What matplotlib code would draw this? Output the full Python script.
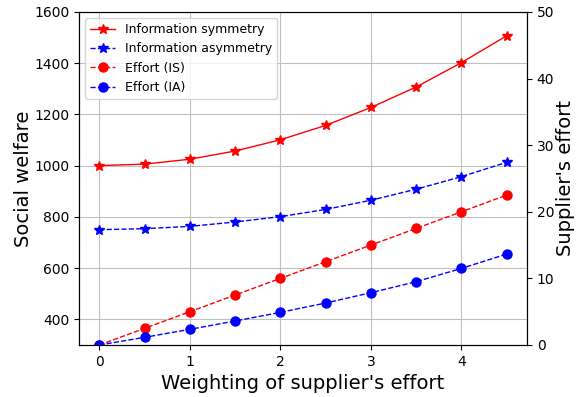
import numpy as np
import matplotlib.pyplot as plt

# weighting of supplier's effort
weights = [0, 0.5, 1, 1.5, 2, 2.5, 3, 3.5, 4, 4.5]

# social welfare (left axis)
welfare_sym = [1000, 1006, 1025, 1057, 1101, 1157, 1227, 1307, 1402, 1507]
welfare_asym = [750, 754, 763, 780, 801, 829, 865, 908, 957, 1013]

# supplier's effort (right axis)
effort_is = [0, 2.5, 5, 7.5, 10, 12.5, 15, 17.5, 20, 22.5]
effort_ia = [0, 1.15, 2.35, 3.6, 4.9, 6.3, 7.85, 9.5, 11.5, 13.65]

fig = plt.figure(figsize=(5.85, 3.97), dpi=100)
ax = fig.add_axes([0.135, 0.131, 0.766, 0.839])
ax2 = ax.twinx()

l1, = ax.plot(weights, welfare_sym, 'r-', marker='*', lw=1, ms=7, label='Information symmetry')
l2, = ax.plot(weights, welfare_asym, 'b--', marker='*', lw=1, ms=7, label='Information asymmetry')
l3, = ax2.plot(weights, effort_is, 'r--', marker='o', lw=1, ms=6.5, label='Effort (IS)')
l4, = ax2.plot(weights, effort_ia, 'b--', marker='o', lw=1, ms=6.5, label='Effort (IA)')

ax.set_ylim(300, 1600)
ax2.set_ylim(0, 50)
ax.set_xticks([0, 1, 2, 3, 4])
ax.grid(True, color='#c0c0c0', lw=0.8)

ax.set_xlabel("Weighting of supplier's effort", fontsize=14)
ax.set_ylabel('Social welfare', fontsize=14, labelpad=0.5)
ax2.set_ylabel("Supplier's effort", fontsize=14, labelpad=1)

ax.legend(handles=[l1, l2, l3, l4], loc='upper left', fontsize=9)

fig.savefig('out.png', dpi=100)
